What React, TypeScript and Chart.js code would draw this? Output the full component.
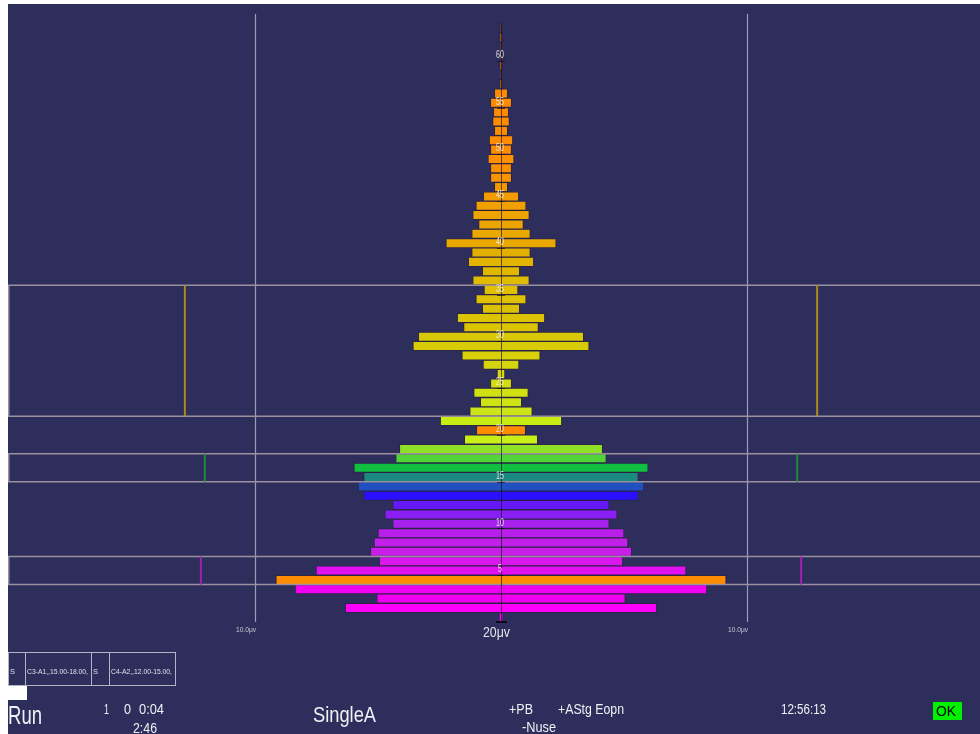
import React, { useEffect, useRef } from "react";
import { Chart, registerables } from "chart.js";

Chart.register(...registerables);

// Spectrum rows (index 0 = bottom), half-amplitude in µV
const rowValues = [
  0.08, 6.33, 5.05, 8.37, 9.15, 7.52, 4.95, 5.31, 5.16, 5.0,
  4.4, 4.72, 4.4, 5.58, 5.81, 5.58, 5.98, 4.28, 4.13, 1.49,
  1.0, 2.47, 1.27, 0.84, 1.11, 0.43, 0.16, 0.73, 1.59, 3.58,
  3.36, 1.52, 1.78, 0.76, 1.02, 0.69, 1.15, 0.76, 1.33, 1.19,
  2.24, 1.19, 0.91, 1.15, 1.02, 0.72, 0.27, 0.43, 0.43, 0.53,
  0.43, 0.48, 0.27, 0.34, 0.31, 0.43, 0.27, 0.06, 0.02, 0.06,
  0.02, 0.02, 0.06, 0.04,
];
const rowIndex = rowValues.map((_, i) => i);

const rowColors = [
  "#ff00ff", "#ff00ff", "#f000f0", "#f000f0", "#ff8c00", "#e010f0", "#d818ec", "#c81ee8", "#c020e8", "#b820ea",
  "#a820ee", "#8a1ef4", "#6418f8", "#2a10ff", "#2050c0", "#1a8a80", "#10c040", "#50d438", "#90e028", "#c8f018",
  "#ff8c00", "#c8ec14", "#cce418", "#cee214", "#d0e010", "#d2dc10", "#d4d80c", "#d6d40c", "#d8d008", "#d8cc08",
  "#d8c808", "#dac404", "#dcc404", "#dcc004", "#dec004", "#dec000", "#e0bc00", "#e0b800", "#e2b400", "#e4b000",
  "#e8a800", "#eaa800", "#eca400", "#eea400", "#f0a000", "#f29c00", "#f49800", "#f89400", "#fa9000", "#fc9000",
  "#ff8c00", "#ff8c00", "#ff8c00", "#ff8c00", "#ff8c00", "#ff8c00", "#ff8c00", "#c06010", "#c06010", "#c06010",
  "#c06010", "#c06010", "#c06010", "#c06010",
];

const centerTicks = [5, 10, 15, 20, 25, 30, 35, 40, 45, 50, 55, 60];
const gridValues = [-10, 10];
const gridLabels = ["10.0\u03bcv", "10.0\u03bcv"];
const scaleLabel = "20\u03bcv";

// Frequency band boxes
const bandLow = [3.5, 14.5, 21.5];
const bandHigh = [6.5, 17.5, 35.5];
const bandAmp = [12.2, 12.04, 12.85];
const bandColor = ["#a020b4", "#1e8a3a", "#a88a1e"];

const montageCells = ["S", "C3-A1,,15.00-18.00,", "S", "C4-A2,,12.00-15.00,"];
const statusRun = "Run";
const statusNums = ["1", "0", "0:04", "2:46"];
const statusMode = "SingleA";
const statusFlags = ["+PB", "+AStg Eopn", "-Nuse"];
const statusTime = "12:56:13";
const statusOk = "OK";

const OX = 8;
const OY = 4;
const FONT = '"Liberation Sans", Arial, sans-serif';

function fitText(ctx: CanvasRenderingContext2D, text: string, px: number, py: number, width: number, size: number, color: string) {
  ctx.save();
  ctx.font = `${size}px ${FONT}`;
  const w = ctx.measureText(text).width;
  const s = width / w;
  ctx.translate(px - OX, py - OY);
  ctx.scale(s, 1);
  ctx.fillStyle = color;
  ctx.textAlign = "left";
  ctx.textBaseline = "alphabetic";
  ctx.fillText(text, 0, 0);
  ctx.restore();
}

const overlayPlugin = {
  id: "overlay",
  afterDatasetsDraw(chart: any) {
    const ctx: CanvasRenderingContext2D = chart.ctx;
    const xs = chart.scales.x;
    const ys = chart.scales.y;
    const area = chart.chartArea;
    const cx = xs.getPixelForValue(0);

    // vertical grid lines
    ctx.save();
    ctx.strokeStyle = "rgba(215,215,228,0.65)";
    ctx.lineWidth = 1.2;
    gridValues.forEach((g) => {
      const x = Math.round(xs.getPixelForValue(g)) + 0.5;
      ctx.beginPath();
      ctx.moveTo(x, area.top);
      ctx.lineTo(x, area.bottom);
      ctx.stroke();
    });
    ctx.restore();

    // grid labels
    gridValues.forEach((g, i) => {
      const x = xs.getPixelForValue(g);
      fitText(ctx, gridLabels[i], x + OX - 19, area.bottom + OY + 10, 20, 8, "#c8c8d4");
    });

    // band boxes
    ctx.save();
    bandLow.forEach((lo, i) => {
      const yTop = ys.getPixelForValue(bandHigh[i]);
      const yBot = ys.getPixelForValue(lo);
      ctx.strokeStyle = "#9c909e";
      ctx.lineWidth = 1.5;
      ctx.beginPath();
      ctx.moveTo(area.right + 2, yTop);
      ctx.lineTo(area.left + 0.75, yTop);
      ctx.lineTo(area.left + 0.75, yBot);
      ctx.lineTo(area.right + 2, yBot);
      ctx.stroke();
      ctx.strokeStyle = bandColor[i];
      ctx.lineWidth = 2;
      [-bandAmp[i], bandAmp[i]].forEach((a) => {
        const x = xs.getPixelForValue(a);
        ctx.beginPath();
        ctx.moveTo(x, yTop);
        ctx.lineTo(x, yBot);
        ctx.stroke();
      });
    });
    ctx.restore();

    // center line
    ctx.save();
    ctx.strokeStyle = "rgba(20,10,30,0.65)";
    ctx.lineWidth = 1;
    const topY = ys.getPixelForValue(rowIndex[rowIndex.length - 1] + 0.5);
    ctx.beginPath();
    ctx.moveTo(Math.round(cx) + 0.5, topY);
    ctx.lineTo(Math.round(cx) + 0.5, area.bottom);
    ctx.stroke();
    centerTicks.forEach((t) => {
      const y = Math.round(ys.getPixelForValue(t - 0.5)) + 0.5;
      ctx.beginPath();
      ctx.moveTo(cx - 4, y);
      ctx.lineTo(cx + 4, y);
      ctx.stroke();
    });
    ctx.strokeStyle = "#000";
    ctx.lineWidth = 1.5;
    ctx.beginPath();
    ctx.moveTo(cx - 5, area.bottom);
    ctx.lineTo(cx + 6, area.bottom);
    ctx.stroke();
    ctx.restore();

    // center labels
    ctx.save();
    ctx.font = `10px ${FONT}`;
    ctx.fillStyle = "rgba(240,240,245,0.9)";
    ctx.textAlign = "center";
    ctx.textBaseline = "middle";
    centerTicks.forEach((t) => {
      const y = ys.getPixelForValue(t) - 1;
      ctx.save();
      ctx.translate(cx - 1, y);
      ctx.scale(0.7, 1);
      ctx.fillText(String(t), 0, 0);
      ctx.restore();
    });
    ctx.restore();

    fitText(ctx, scaleLabel, 483, area.bottom + OY + 15, 27, 14, "#e4e4ec");

    // footer: montage cells
    ctx.save();
    ctx.strokeStyle = "#b4b4c4";
    ctx.lineWidth = 1;
    const cellX = [8, 25, 91, 109, 175];
    for (let i = 0; i < montageCells.length; i++) {
      ctx.strokeRect(cellX[i] - OX + 0.5, 652 - OY + 0.5, cellX[i + 1] - cellX[i], 33);
    }
    ctx.fillStyle = "#ffffff";
    ctx.fillRect(0, 686 - OY, 19, 14);
    ctx.restore();
    const cellW = [5, 61, 5, 61];
    montageCells.forEach((c, i) => {
      fitText(ctx, c, cellX[i] + 2, 674, cellW[i], 8, "#e0e0ea");
    });

    // status line
    fitText(ctx, statusRun, 8, 724, 34, 25, "#f0f0f4");
    fitText(ctx, statusNums[0], 104, 714, 5, 14, "#f0f0f4");
    fitText(ctx, statusNums[1], 124, 714, 7, 14, "#f0f0f4");
    fitText(ctx, statusNums[2], 139, 714, 25, 14, "#f0f0f4");
    fitText(ctx, statusNums[3], 133, 733, 24, 14, "#f0f0f4");
    fitText(ctx, statusMode, 313, 722, 63, 22, "#f0f0f4");
    fitText(ctx, statusFlags[0], 509, 714, 24, 14, "#f0f0f4");
    fitText(ctx, statusFlags[1], 558, 714, 66, 14, "#f0f0f4");
    fitText(ctx, statusFlags[2], 522, 732, 34, 14, "#f0f0f4");
    fitText(ctx, statusTime, 781, 714, 45, 14, "#f0f0f4");
    ctx.save();
    ctx.fillStyle = "#00f000";
    ctx.fillRect(933 - OX, 702 - OY, 29, 18);
    ctx.restore();
    fitText(ctx, statusOk, 936, 716, 20, 15, "#000000");
  },
};

export default function App() {
  const ref = useRef<HTMLCanvasElement | null>(null);
  useEffect(() => {
    if (!ref.current) return;
    const chart = new Chart(ref.current, {
      type: "bar",
      data: {
        datasets: [
          {
            data: rowValues.map((v, i) => ({ x: [-v, v], y: rowIndex[i] })) as any,
            backgroundColor: rowColors,
            borderColor: "rgba(40,25,40,0.4)",
            borderWidth: 1,
            borderSkipped: false,
            barPercentage: 1,
            categoryPercentage: 1,
          },
        ],
      },
      options: {
        indexAxis: "y",
        animation: false,
        responsive: false,
        maintainAspectRatio: false,
        layout: { padding: { top: 10, bottom: 112, left: 0, right: 0 } },
        plugins: { legend: { display: false }, tooltip: { enabled: false } },
        scales: {
          x: { type: "linear", min: -20.04, max: 19.47, display: false, offset: false },
          y: { type: "linear", min: -0.5, max: 64.5, display: false, offset: false },
        },
      },
      plugins: [overlayPlugin],
    } as any);
    return () => chart.destroy();
  }, []);
  return (
    <div style={{ position: "fixed", left: 8, top: 4, width: 972, height: 730, background: "#2e2e5c" }}>
      <canvas ref={ref} width={972} height={730} style={{ display: "block", width: 972, height: 730 }} />
    </div>
  );
}
